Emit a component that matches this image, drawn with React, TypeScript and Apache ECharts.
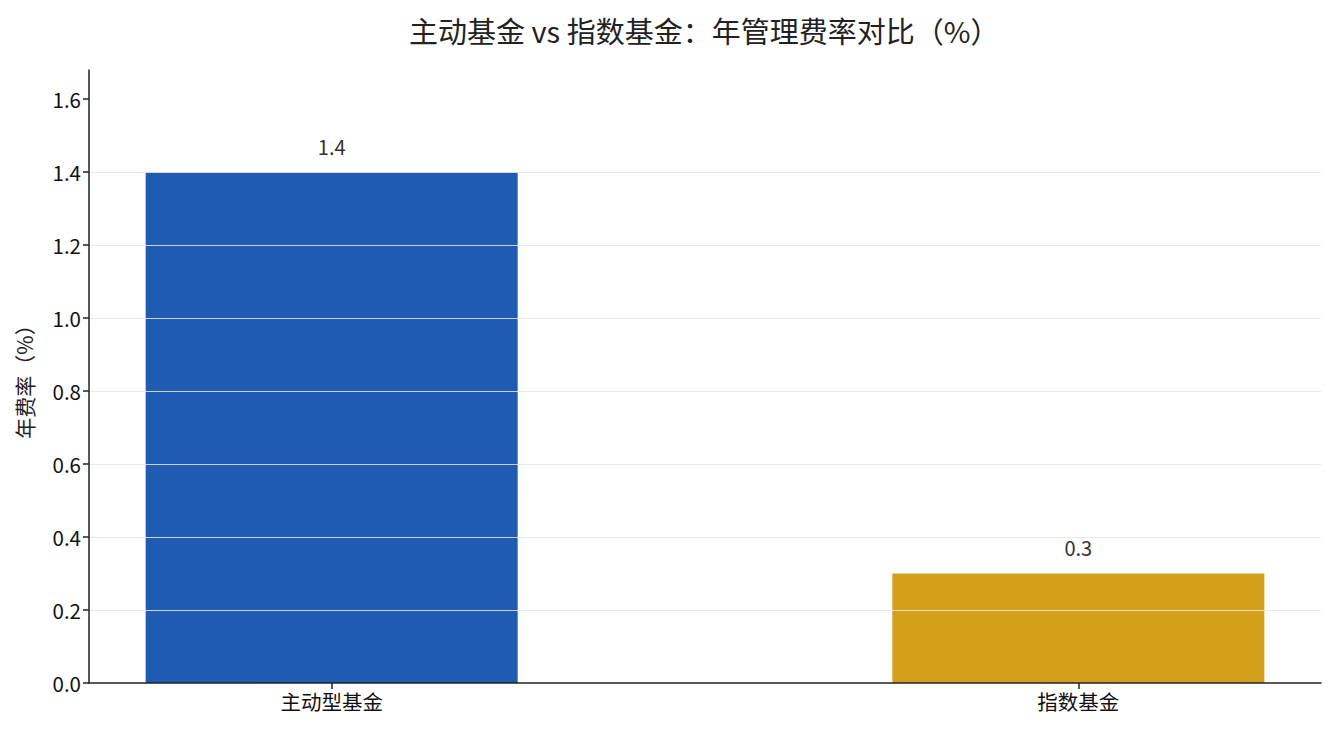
import React, { useRef, useEffect } from 'react';
import * as echarts from 'echarts';

const categories = ['主动型基金', '指数基金'];
const feeRates = [1.4, 0.3];
const barColors = ['#1f5bb0', '#d4a01b'];
const yTicks = [0, 0.2, 0.4, 0.6, 0.8, 1.0, 1.2, 1.4, 1.6];
const xPositions = [0, 1];

const FONT = '"Noto Sans CJK SC", "Noto Sans", sans-serif';

const App = () => {
  const chartRef = useRef(null);

  useEffect(() => {
    const myChart = echarts.init(chartRef.current, null, { renderer: 'svg' });

    const option = {
      animation: false,
      backgroundColor: '#ffffff',
      textStyle: { fontFamily: FONT },
      // centred over the plot area, not the whole canvas
      title: {
        text: '主动基金 vs 指数基金：年管理费率对比（%）',
        left: 404,
        top: 10,
        textStyle: { fontSize: 29, fontWeight: 'normal', color: '#222', fontFamily: FONT }
      },
      grid: { left: 89, right: 14, top: 70, bottom: 52 },
      xAxis: {
        type: 'value',
        min: -0.325,
        max: 1.325,
        z: 3,
        splitLine: { show: false },
        axisLine: { show: true, onZero: false, lineStyle: { color: '#222', width: 1.5 } },
        axisTick: { show: true, length: 6, customValues: xPositions, lineStyle: { color: '#222', width: 1.5 } },
        axisLabel: {
          customValues: xPositions,
          formatter: (v) => categories[Math.round(v)] ?? '',
          color: '#111',
          fontSize: 20.5,
          margin: 8,
          fontFamily: FONT
        }
      },
      yAxis: {
        type: 'value',
        min: 0,
        max: 1.68,
        interval: 0.2,
        z: 3,
        name: '年费率（%）',
        nameLocation: 'middle',
        nameGap: 55,
        nameTextStyle: { fontSize: 21, color: '#222', fontFamily: FONT },
        axisLine: { show: true, onZero: false, lineStyle: { color: '#222', width: 1.5 } },
        axisTick: { show: true, length: 6, customValues: yTicks, lineStyle: { color: '#222', width: 1.5 } },
        axisLabel: {
          customValues: yTicks,
          formatter: (v) => v.toFixed(1),
          color: '#111',
          fontSize: 20.5,
          margin: 8,
          fontFamily: FONT
        },
        splitLine: {
          show: true,
          showMinLine: false,
          showMaxLine: false,
          lineStyle: { color: '#e6e6e6', opacity: 0.85, width: 1 }
        }
      },
      series: [
        {
          type: 'bar',
          barWidth: 372,
          z: 1,
          data: feeRates.map((v, i) => ({
            value: [xPositions[i], v],
            itemStyle: { color: barColors[i] }
          })),
          label: {
            show: true,
            position: 'top',
            distance: 16,
            color: '#333',
            fontSize: 20,
            fontFamily: FONT,
            formatter: (p) => p.value[1].toFixed(1)
          }
        }
      ]
    };

    myChart.setOption(option);

    return () => {
      myChart.dispose();
    };
  }, []);

  return (
    <div
      ref={chartRef}
      style={{ position: 'fixed', left: 0, top: 0, width: '1335px', height: '735px' }}
    />
  );
};

export default App;
